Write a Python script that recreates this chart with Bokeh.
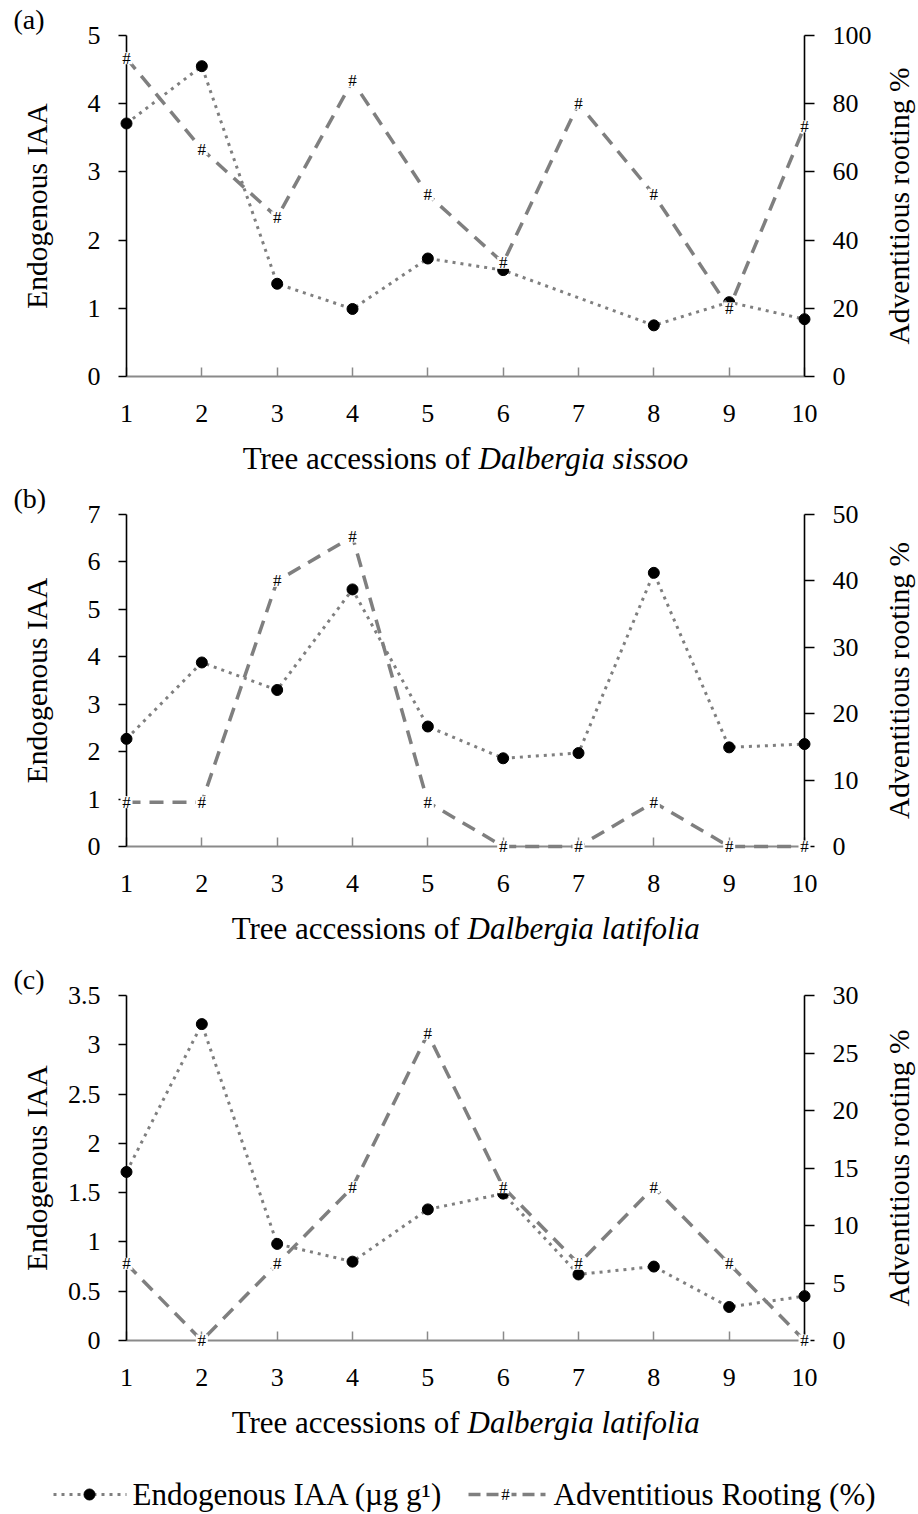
import math
from bokeh.plotting import figure
from bokeh.models import (Range1d, LinearAxis, FixedTicker, Label, ColumnDataSource,
                          Title, CustomJSTickFormatter)
from bokeh.layouts import column
from bokeh.embed import file_html
from bokeh.resources import INLINE
from bokeh.core.properties import value

# ---------------- data ----------------
accessions = [1, 2, 3, 4, 5, 6, 7, 8, 9, 10]
x_tick_labels = ["1", "2", "3", "4", "5", "6", "7", "8", "9", "10"]

iaa_a = [3.71, 4.55, 1.36, 0.99, 1.73, 1.56, None, 0.75, 1.09, 0.84]
rooting_a = [93.33, 66.67, 46.67, 86.67, 53.33, 33.33, 80.0, 53.33, 20.0, 73.33]

iaa_b = [2.27, 3.88, 3.30, 5.42, 2.53, 1.86, 1.97, 5.77, 2.09, 2.16]
rooting_b = [6.67, 6.67, 40.0, 46.67, 6.67, 0.0, 0.0, 6.67, 0.0, 0.0]

iaa_c = [1.71, 3.21, 0.98, 0.80, 1.33, 1.49, 0.67, 0.75, 0.34, 0.45]
rooting_c = [6.67, 0.0, 6.67, 13.33, 26.67, 13.33, 6.67, 13.33, 6.67, 0.0]

iaa_ticks_a = [0, 1, 2, 3, 4, 5]
iaa_tick_labels_a = ["0", "1", "2", "3", "4", "5"]
root_ticks_a = [0, 20, 40, 60, 80, 100]
root_tick_labels_a = ["0", "20", "40", "60", "80", "100"]

iaa_ticks_b = [0, 1, 2, 3, 4, 5, 6, 7]
iaa_tick_labels_b = ["0", "1", "2", "3", "4", "5", "6", "7"]
root_ticks_b = [0, 10, 20, 30, 40, 50]
root_tick_labels_b = ["0", "10", "20", "30", "40", "50"]

iaa_ticks_c = [0, 0.5, 1, 1.5, 2, 2.5, 3, 3.5]
iaa_tick_labels_c = ["0", "0.5", "1", "1.5", "2", "2.5", "3", "3.5"]
root_ticks_c = [0, 5, 10, 15, 20, 25, 30]
root_tick_labels_c = ["0", "5", "10", "15", "20", "25", "30"]

panel_letters = ["(a)", "(b)", "(c)"]
x_title_prefix = "Tree accessions of"
species_names = ["Dalbergia sissoo", "Dalbergia latifolia", "Dalbergia latifolia"]
y_title_left = "Endogenous IAA"
y_title_right = "Adventitious rooting %"
legend_labels = ["Endogenous IAA (\u00b5g g\u00b9)", "Adventitious Rooting (%)"]
hash_symbol = "#"

# ---------------- layout / style ----------------
SERIF = "Liberation Serif"
LINE_GRAY = "#7f7f7f"
AXIS_GRAY = "#8a8a8a"
HASH_SIZE = "17px"
FIG_W = 918
LEFT_B = 126
RIGHT_B = 114
FRAME_W = FIG_W - LEFT_B - RIGHT_B
BOTTOM_B = 60


def tick_formatter_js(tick_values, tick_texts):
    return CustomJSTickFormatter(args=dict(tvals=tick_values, ttexts=tick_texts), code="""
        for (let i = 0; i < tvals.length; i++) {
            if (Math.abs(tvals[i] - tick) < 1e-9) return ttexts[i];
        }
        return "";
    """)


def style_axis(ax, color, lw, tick_in, tick_out, standoff):
    ax.axis_line_color = color
    ax.axis_line_width = lw
    ax.major_tick_line_color = color
    ax.major_tick_line_width = lw
    ax.major_tick_in = tick_in
    ax.major_tick_out = tick_out
    ax.minor_tick_line_color = None
    ax.major_label_standoff = standoff
    ax.major_label_text_font = SERIF
    ax.major_label_text_font_size = "26px"
    ax.major_label_text_color = "black"
    ax.axis_label_text_font = SERIF
    ax.axis_label_text_font_size = "29.5px"
    ax.axis_label_text_font_style = "normal"
    ax.axis_label_text_color = "black"


def build_panel(iaa, rooting, lt, ltl, rt, rtl, letter, top_b, axis_px,
                left_lab_standoff, right_lab_x):
    height = top_b + axis_px + BOTTOM_B
    p = figure(width=FIG_W, height=height,
               x_range=Range1d(accessions[0], accessions[-1]),
               y_range=Range1d(lt[0], lt[-1]),
               output_backend="svg", toolbar_location=None,
               min_border_left=LEFT_B, min_border_right=RIGHT_B,
               min_border_top=top_b, min_border_bottom=BOTTOM_B)
    p.extra_y_ranges = {"root": Range1d(rt[0], rt[-1])}
    p.grid.visible = False
    p.outline_line_color = None

    xa = p.xaxis[0]
    xa.ticker = FixedTicker(ticks=accessions)
    xa.formatter = tick_formatter_js(accessions, x_tick_labels)
    style_axis(xa, AXIS_GRAY, 2, 9, 0, 28)
    xa.major_tick_line_width = 1.5

    ya = p.yaxis[0]
    ya.ticker = FixedTicker(ticks=lt)
    ya.formatter = tick_formatter_js(lt, ltl)
    style_axis(ya, "black", 1.6, 0, 8, 18)
    ya.axis_label = y_title_left
    ya.axis_label_standoff = left_lab_standoff

    ra = LinearAxis(y_range_name="root", ticker=FixedTicker(ticks=rt),
                    formatter=tick_formatter_js(rt, rtl))
    style_axis(ra, "black", 1.6, 0, 10, 18)
    p.add_layout(ra, "right")

    # right-hand axis title, reading bottom-to-top, in the right side panel
    rlab = Label(x=right_lab_x, y=axis_px / 2, x_units="screen", y_units="screen",
                 text=y_title_right, angle=math.pi / 2,
                 text_align="center", text_baseline="middle",
                 text_font=SERIF, text_font_size="29.5px", text_color="black")
    p.add_layout(rlab, "right")

    # IAA series (dotted line + filled circles); a missing value is bridged
    xs = [x for x, v in zip(accessions, iaa) if v is not None]
    ys = [v for v in iaa if v is not None]
    p.line(xs, ys, line_color=LINE_GRAY, line_width=3, line_dash="3 5", level="overlay")
    p.scatter(xs, ys, marker="circle", size=11, fill_color="black", line_color="black",
              level="overlay")

    # Rooting series (dashed line + '#' markers)
    p.line(accessions, rooting, y_range_name="root", line_color=LINE_GRAY,
           line_width=3.5, line_dash="14 9", level="overlay")
    src = ColumnDataSource(dict(x=accessions, y=rooting, mark=[hash_symbol] * len(accessions)))
    p.scatter("x", "y", source=src, y_range_name="root", marker="square", size=12,
              fill_color="white", line_color=None, level="overlay")
    p.text("x", "y", text="mark", source=src, y_range_name="root",
           text_align="center", text_baseline="middle",
           text_font=value(SERIF), text_font_size=value(HASH_SIZE),
           text_color="black", level="overlay")

    t = Title(text=letter, align="left", offset=18 - LEFT_B - 5,
              vertical_align="middle", standoff=0,
              text_font=SERIF, text_font_size="28px", text_font_style="normal",
              text_color="black")
    p.add_layout(t, "above")
    return p


def build_strip(species, height, title_y, split):
    s = figure(width=FIG_W, height=height, x_range=Range1d(0, FRAME_W),
               y_range=Range1d(0, height),
               output_backend="svg", toolbar_location=None,
               min_border_left=LEFT_B, min_border_right=RIGHT_B,
               min_border_top=0, min_border_bottom=0,
               x_axis_type=None, y_axis_type=None)
    s.grid.visible = False
    s.outline_line_color = None
    a = Label(x=split[0] - LEFT_B, y=title_y, text=x_title_prefix,
              text_align="right", text_baseline="middle",
              text_font=SERIF, text_font_size="31px", text_color="black")
    b = Label(x=split[1] - LEFT_B, y=title_y, text=species,
              text_align="left", text_baseline="middle",
              text_font=SERIF, text_font_size="31px", text_font_style="italic",
              text_color="black")
    s.add_layout(a)
    s.add_layout(b)
    return s


pa = build_panel(iaa_a, rooting_a, iaa_ticks_a, iaa_tick_labels_a, root_ticks_a,
                 root_tick_labels_a, panel_letters[0], top_b=35, axis_px=341,
                 left_lab_standoff=32, right_lab_x=24)
sa = build_strip(species_names[0], 40, 18, (470, 478))
pb = build_panel(iaa_b, rooting_b, iaa_ticks_b, iaa_tick_labels_b, root_ticks_b,
                 root_tick_labels_b, panel_letters[1], top_b=38, axis_px=332,
                 left_lab_standoff=32, right_lab_x=37)
sb = build_strip(species_names[1], 40, 18, (459, 467))
pc = build_panel(iaa_c, rooting_c, iaa_ticks_c, iaa_tick_labels_c, root_ticks_c,
                 root_tick_labels_c, panel_letters[2], top_b=49, axis_px=345,
                 left_lab_standoff=12, right_lab_x=37)
sc = build_strip(species_names[2], 46, 24, (459, 467))

# ---------------- legend (separate strip) ----------------
LEG_H = 68
LY = 20
lg = figure(width=FIG_W, height=LEG_H, x_range=Range1d(0, FIG_W), y_range=Range1d(0, LEG_H),
            output_backend="svg", toolbar_location=None, min_border=0,
            x_axis_type=None, y_axis_type=None)
lg.grid.visible = False
lg.outline_line_color = None
lg.line([53, 126], [LY, LY], line_color=LINE_GRAY, line_width=3, line_dash="3 5")
lg.scatter([89], [LY], marker="circle", size=11, fill_color="black", line_color="black")
lg.line([468, 545], [LY, LY], line_color=LINE_GRAY, line_width=3.5, line_dash="12 6")
lg.scatter([505], [LY], marker="square", size=12, fill_color="white", line_color=None)
lg.text([505], [LY], text=[hash_symbol], text_align="center", text_baseline="middle",
        text_font=value(SERIF), text_font_size=value(HASH_SIZE), text_color="black")
lg.add_layout(Label(x=132, y=LY, text=legend_labels[0], text_align="left",
                    text_baseline="middle", text_font=SERIF, text_font_size="31px",
                    text_color="black"))
lg.add_layout(Label(x=553, y=LY, text=legend_labels[1], text_align="left",
                    text_baseline="middle", text_font=SERIF, text_font_size="31px",
                    text_color="black"))

layout = column(column(pa, sa, pb, sb, pc, sc, spacing=0), lg, spacing=0)
open("out.html", "w").write(file_html(layout, INLINE))
